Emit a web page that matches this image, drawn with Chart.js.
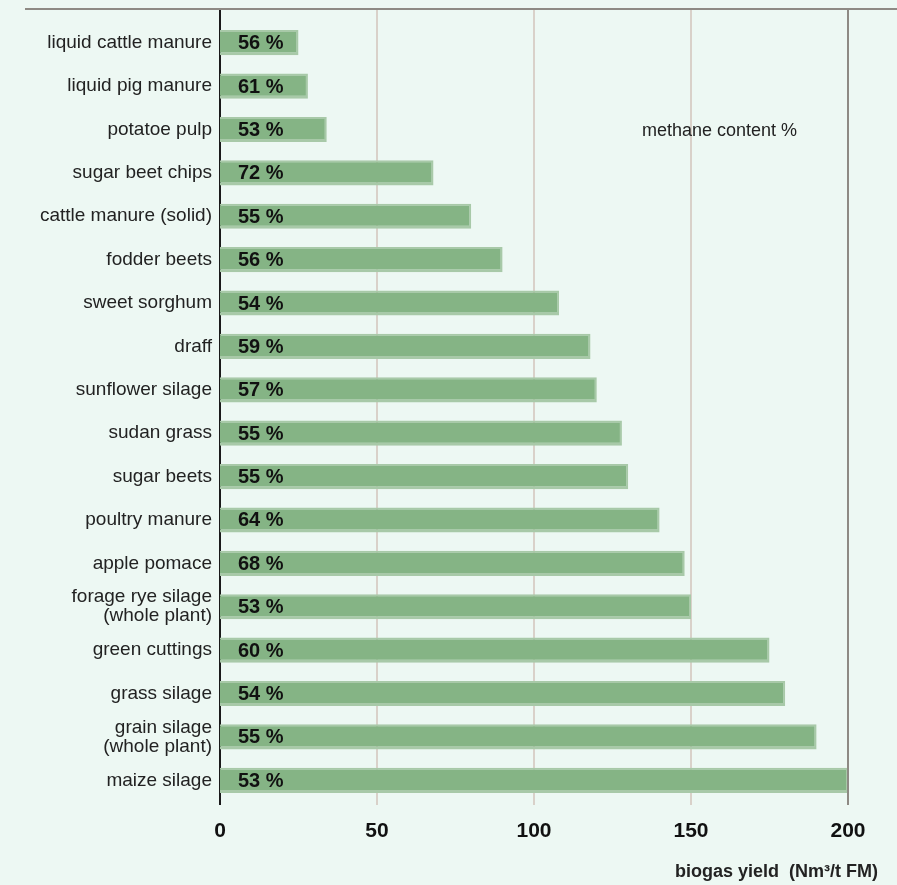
<!DOCTYPE html>
<html>
<head>
<meta charset="utf-8">
<script src="https://cdn.jsdelivr.net/npm/chart.js@4.4.1/dist/chart.umd.min.js"></script>
<style>
    html, body { margin: 0; padding: 0; background: #edf8f3; }
    #wrap { width: 897px; height: 885px; position: relative; }
</style>
</head>
<body>
<div id="wrap"><canvas id="biogasChart" width="897" height="885"></canvas></div>
<script>
// Data
const categories = [
    'liquid cattle manure', 'liquid pig manure', 'potatoe pulp', 'sugar beet chips',
    'cattle manure (solid)', 'fodder beets', 'sweet sorghum', 'draff',
    'sunflower silage', 'sudan grass', 'sugar beets', 'poultry manure',
    'apple pomace', ['forage rye silage', '(whole plant)'], 'green cuttings',
    'grass silage', ['grain silage', '(whole plant)'], 'maize silage'
];
const biogasYield = [25, 28, 34, 68, 80, 90, 108, 118, 120, 128, 130, 140, 148, 150, 175, 180, 190, 200];
const methaneContent = [56, 61, 53, 72, 55, 56, 54, 59, 57, 55, 55, 64, 68, 53, 60, 54, 55, 53];
const xTicks = [0, 50, 100, 150, 200];

const FONT = "'Liberation Sans', Arial, sans-serif";
const TOP_LINE_Y = 9;

// Grid lines, top rule, percent labels and captions
const decorPlugin = {
    id: 'decor',
    beforeDatasetsDraw(chart) {
        const ctx = chart.ctx;
        const x = chart.scales.x;
        const area = chart.chartArea;
        ctx.save();
        xTicks.forEach(v => {
            const px = Math.round(x.getPixelForValue(v));
            ctx.beginPath();
            ctx.lineWidth = 2;
            ctx.strokeStyle = v === 0 ? '#1a1a1a' : (v === 200 ? '#8e8a84' : '#d9d1c9');
            ctx.moveTo(px, TOP_LINE_Y);
            ctx.lineTo(px, area.bottom + 3);
            ctx.stroke();
        });
        ctx.beginPath();
        ctx.lineWidth = 2;
        ctx.strokeStyle = '#8e8a84';
        ctx.moveTo(25, TOP_LINE_Y);
        ctx.lineTo(chart.width, TOP_LINE_Y);
        ctx.stroke();
        ctx.restore();
    },
    afterDatasetsDraw(chart) {
        const ctx = chart.ctx;
        const x = chart.scales.x;
        const meta = chart.getDatasetMeta(0);
        ctx.save();
        // redraw the 200 line on top of the last bar
        const p200 = Math.round(x.getPixelForValue(200));
        ctx.beginPath();
        ctx.lineWidth = 2;
        ctx.strokeStyle = '#8e8a84';
        ctx.moveTo(p200, TOP_LINE_Y);
        ctx.lineTo(p200, chart.chartArea.bottom + 3);
        ctx.stroke();

        ctx.fillStyle = '#111';
        ctx.font = 'bold 20px ' + FONT;
        ctx.textBaseline = 'middle';
        ctx.textAlign = 'left';
        meta.data.forEach((bar, i) => {
            ctx.fillText(methaneContent[i] + ' %', x.getPixelForValue(0) + 18, bar.y + 1);
        });

        ctx.fillStyle = '#222';
        ctx.font = '18px ' + FONT;
        ctx.fillText('methane content %', 642, 131);

        ctx.font = 'bold 18px ' + FONT;
        ctx.textAlign = 'right';
        ctx.fillText('biogas yield  (Nm³/t FM)', 878, 872);
        ctx.restore();
    }
};

new Chart(document.getElementById('biogasChart'), {
    type: 'bar',
    data: {
        labels: categories,
        datasets: [{
            data: biogasYield,
            backgroundColor: '#85b485',
            borderColor: '#a8c9a8',
            borderWidth: { top: 2, bottom: 3, right: 2, left: 0 },
            borderSkipped: false,
            categoryPercentage: 1,
            barPercentage: 0.58
        }]
    },
    options: {
        indexAxis: 'y',
        responsive: false,
        animation: false,
        layout: { padding: { top: 21, right: 49, bottom: 0, left: 0 } },
        plugins: {
            legend: { display: false },
            tooltip: { enabled: false }
        },
        scales: {
            x: {
                min: 0,
                max: 200,
                afterFit: s => { s.height = 83; },
                afterBuildTicks: s => { s.ticks = xTicks.map(v => ({ value: v })); },
                grid: { display: false, drawTicks: false },
                border: { display: false },
                ticks: {
                    padding: 17,
                    color: '#111',
                    font: { family: FONT, size: 21, weight: 'bold' }
                }
            },
            y: {
                afterFit: s => { s.width = 220; },
                grid: { display: false, drawTicks: false },
                border: { display: false },
                ticks: {
                    padding: 8,
                    color: '#222',
                    font: { family: FONT, size: 19, lineHeight: 1.0 }
                }
            }
        }
    },
    plugins: [decorPlugin]
});
</script>
</body>
</html>
